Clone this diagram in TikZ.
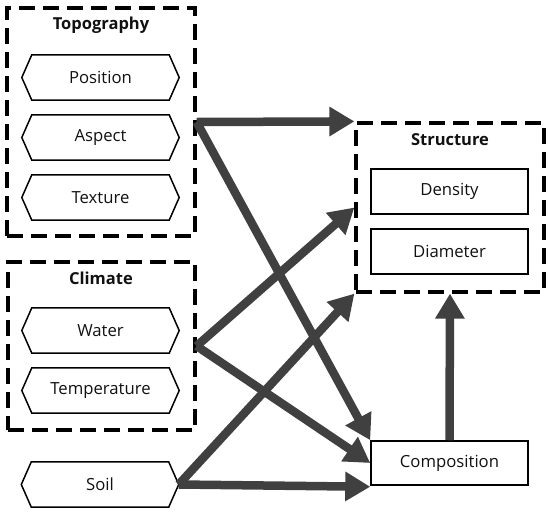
\documentclass[tikz,border=0pt]{standalone}
\usepackage{fontspec}
\setmainfont{Open Sans}
\usetikzlibrary{arrows.meta}
\definecolor{arr}{HTML}{404040}
\definecolor{ink}{HTML}{111111}
\begin{document}
\begin{tikzpicture}[x=1pt,y=-1pt,
  font=\fontsize{16.7}{18}\selectfont, text=ink,
  grp/.style={draw=black, line width=3.2pt, dash pattern=on 16pt off 8pt, inner sep=0pt},
  ttl/.style={font=\fontsize{16.5}{18}\selectfont\bfseries},
  hexn/.style={minimum width=157pt, minimum height=45pt, inner sep=0pt},
  boxn/.style={draw=black, line width=1.5pt, minimum width=157pt, minimum height=45pt, inner sep=0pt},
  flow/.style={draw=arr, line width=8.5pt, -{Triangle[length=25pt,width=28pt]}}]
\useasboundingbox (0,0) rectangle (550,512);
% group boxes
\node[grp, minimum width=188pt, minimum height=228pt] (topo) at (101,122) {};
\node[grp, minimum width=187pt, minimum height=168pt] (clim) at (101.5,346) {};
\node[grp, minimum width=188pt, minimum height=169pt] (struct) at (450,207.5) {};
\node[ttl] (ttopo) at (101,25) {Topography};
\node[ttl] (tclim) at (101,278) {Climate};
\node[ttl] (tstruct) at (450,140) {Structure};
% hexagon nodes
\node[hexn] (pos) at (100.5,77.5) {Position};
\node[hexn] (asp) at (100.5,137.5) {Aspect};
\node[hexn] (tex) at (100.5,197.5) {Texture};
\node[hexn] (wat) at (100.5,330.5) {Water};
\node[hexn] (tmp) at (100.5,390.5) {Temperature};
\node[hexn] (soil) at (100,484.5) {Soil};
\foreach \n in {pos,asp,tex,wat,tmp,soil}{
  \draw[line width=1.5pt, line join=miter]
    ([xshift=10pt]\n.north west) -- ([xshift=-10pt]\n.north east) -- (\n.east)
    -- ([xshift=-10pt]\n.south east) -- ([xshift=10pt]\n.south west) -- (\n.west) -- cycle;
}
% rectangles
\node[boxn] (dens) at (449.5,191.5) {Density};
\node[boxn] (diam) at (449.5,251.5) {Diameter};
\node[boxn, minimum height=44pt] (comp) at (449.5,463) {Composition};
% arrows
\draw[flow] (topo.east) -- (struct.north west);
\draw[flow] (topo.east) -- (comp.north west);
\draw[flow] (clim.east) -- (struct.west);
\draw[flow] (clim.east) -- (comp.west);
\draw[flow] (soil.east) -- (struct.south west);
\draw[flow] (soil.east) -- ([yshift=-1pt]comp.south west);
\draw[flow] (comp.north) -- (struct.south);
\end{tikzpicture}
\end{document}
